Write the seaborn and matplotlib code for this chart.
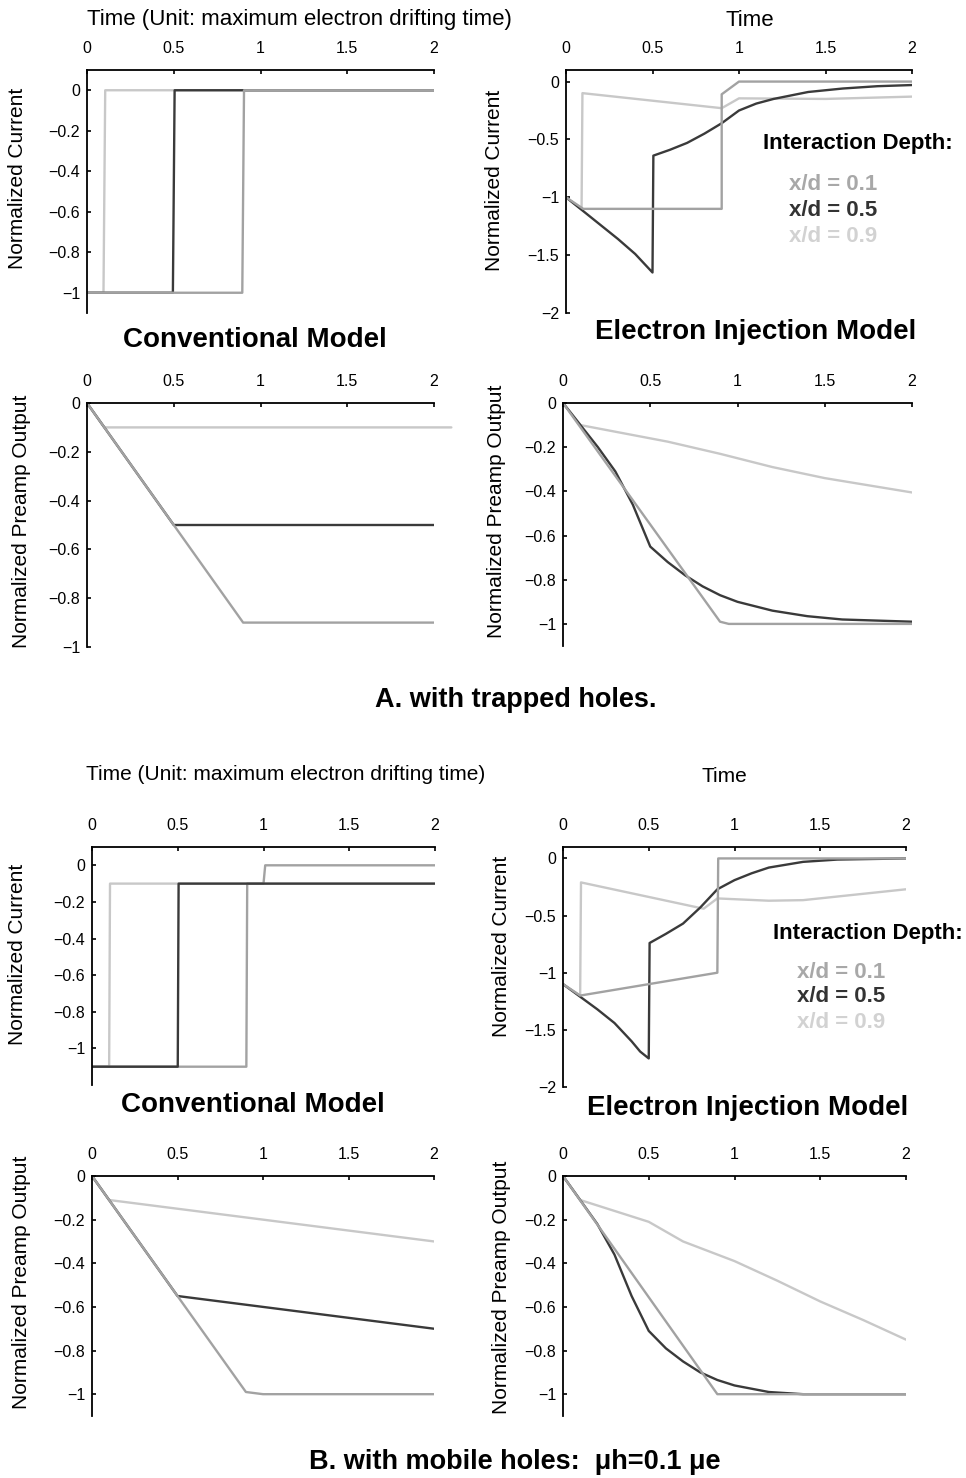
import numpy as np
import pandas as pd
import seaborn as sns
import matplotlib
matplotlib.use("Agg")
import matplotlib.pyplot as plt

sns.set_theme(style="white")
plt.rcParams['font.family'] = ['Liberation Sans', 'DejaVu Sans']
plt.rcParams['axes.unicode_minus'] = True
plt.rcParams['text.color'] = 'black'
plt.rcParams['axes.labelcolor'] = 'black'
plt.rcParams['xtick.color'] = 'black'
plt.rcParams['ytick.color'] = 'black'

# ---------------- data ----------------
depths = ["x/d = 0.1", "x/d = 0.5", "x/d = 0.9"]
colors = {"x/d = 0.1": "#a2a2a2", "x/d = 0.5": "#3a3a3a", "x/d = 0.9": "#c8c8c8"}
legend_colors = {"x/d = 0.1": "#a8a8a8", "x/d = 0.5": "#333333", "x/d = 0.9": "#d2d2d2"}

x_ticks = [0, 0.5, 1, 1.5, 2]
x_ticklabels = ["0", "0.5", "1", "1.5", "2"]
y_ticks_1 = [0, -0.2, -0.4, -0.6, -0.8, -1]
y_ticklabels_1 = ["0", "\u22120.2", "\u22120.4", "\u22120.6", "\u22120.8", "\u22121"]
y_ticks_2 = [0, -0.5, -1, -1.5, -2]
y_ticklabels_2 = ["0", "\u22120.5", "\u22121", "\u22121.5", "\u22122"]

# A. trapped holes, conventional current
a1_t_01 = [0, 0.895, 0.905, 2.0]
a1_v_01 = [-1, -1, 0, 0]
a1_t_05 = [0, 0.495, 0.505, 2.0]
a1_v_05 = [-1, -1, 0, 0]
a1_t_09 = [0, 0.095, 0.105, 2.0]
a1_v_09 = [-1, -1, 0, 0]

# A. trapped holes, electron injection current
a2_t_01 = [0, 0.1, 0.9, 0.9, 1.0, 2.0]
a2_v_01 = [-1.0, -1.1, -1.1, -0.11, 0.0, 0.0]
a2_t_05 = [0, 0.1, 0.2, 0.3, 0.4, 0.5, 0.505, 0.6, 0.7, 0.8, 0.9, 1.0, 1.1, 1.2, 1.4, 1.6, 1.8, 2.0]
a2_v_05 = [-1.0, -1.12, -1.24, -1.36, -1.49, -1.65, -0.64, -0.59, -0.53, -0.45, -0.36, -0.25, -0.19, -0.15, -0.09, -0.06, -0.04, -0.03]
a2_t_09 = [0, 0.09, 0.095, 0.9, 1.0, 1.5, 2.0]
a2_v_09 = [-1.0, -1.1, -0.1, -0.23, -0.145, -0.15, -0.13]

# A. trapped holes, conventional preamp
a3_t_01 = [0, 0.9, 2.0]
a3_v_01 = [0, -0.9, -0.9]
a3_t_05 = [0, 0.5, 2.0]
a3_v_05 = [0, -0.5, -0.5]
a3_t_09 = [0, 0.1, 2.1]
a3_v_09 = [0, -0.1, -0.1]

# A. trapped holes, electron injection preamp
a4_t_01 = [0, 0.9, 0.95, 2.0]
a4_v_01 = [0, -0.99, -1.0, -1.0]
a4_t_05 = [0, 0.1, 0.2, 0.3, 0.4, 0.5, 0.6, 0.7, 0.8, 0.9, 1.0, 1.2, 1.4, 1.6, 1.8, 2.0]
a4_v_05 = [0, -0.1, -0.2, -0.31, -0.46, -0.65, -0.72, -0.78, -0.83, -0.87, -0.90, -0.94, -0.965, -0.98, -0.985, -0.99]
a4_t_09 = [0, 0.1, 0.5, 0.6, 0.9, 1.2, 1.5, 2.0]
a4_v_09 = [0, -0.1, -0.16, -0.175, -0.23, -0.29, -0.34, -0.405]

# B. mobile holes, conventional current
b1_t_01 = [0, 0.9, 0.905, 1.0, 1.01, 2.0]
b1_v_01 = [-1.1, -1.1, -0.1, -0.1, 0.0, 0.0]
b1_t_05 = [0, 0.5, 0.505, 2.0]
b1_v_05 = [-1.1, -1.1, -0.1, -0.1]
b1_t_09 = [0, 0.1, 0.105, 2.0]
b1_v_09 = [-1.1, -1.1, -0.1, -0.1]

# B. mobile holes, electron injection current
b2_t_01 = [0, 0.1, 0.9, 0.905, 2.0]
b2_v_01 = [-1.1, -1.2, -1.0, 0.0, 0.0]
b2_t_05 = [0, 0.1, 0.2, 0.3, 0.4, 0.45, 0.5, 0.505, 0.6, 0.7, 0.8, 0.9, 1.0, 1.1, 1.2, 1.4, 1.6, 2.0]
b2_v_05 = [-1.1, -1.21, -1.32, -1.44, -1.6, -1.69, -1.75, -0.74, -0.66, -0.57, -0.43, -0.27, -0.19, -0.13, -0.08, -0.03, -0.01, 0.0]
b2_t_09 = [0, 0.1, 0.105, 0.82, 0.9, 1.2, 1.4, 2.0]
b2_v_09 = [-1.1, -1.2, -0.21, -0.44, -0.35, -0.37, -0.365, -0.27]

# B. mobile holes, conventional preamp
b3_t_01 = [0, 0.9, 1.0, 2.0]
b3_v_01 = [0, -0.99, -1.0, -1.0]
b3_t_05 = [0, 0.5, 1.0, 2.0]
b3_v_05 = [0, -0.55, -0.6, -0.7]
b3_t_09 = [0, 0.1, 1.0, 2.0]
b3_v_09 = [0, -0.11, -0.2, -0.3]

# B. mobile holes, electron injection preamp
b4_t_01 = [0, 0.9, 2.0]
b4_v_01 = [0, -1.0, -1.0]
b4_t_05 = [0, 0.1, 0.2, 0.3, 0.4, 0.5, 0.6, 0.7, 0.8, 0.9, 1.0, 1.2, 1.4, 2.0]
b4_v_05 = [0, -0.11, -0.22, -0.36, -0.55, -0.71, -0.79, -0.85, -0.9, -0.935, -0.96, -0.99, -1.0, -1.0]
b4_t_09 = [0, 0.1, 0.5, 0.7, 1.0, 1.25, 1.5, 1.75, 2.0]
b4_v_09 = [0, -0.11, -0.21, -0.30, -0.39, -0.48, -0.575, -0.66, -0.75]

# ---------------- figure ----------------
W, H = 966, 1478
fig = plt.figure(figsize=(W / 100, H / 100), dpi=100)


def px_axes(x0, x1, y0, y1):
    return fig.add_axes([x0 / W, 1 - y1 / H, (x1 - x0) / W, (y1 - y0) / H])


def draw(ax, series, ylim, yticks, yticklabels, order=("x/d = 0.9", "x/d = 0.5", "x/d = 0.1"), noclip=()):
    for key in order:
        t, v = series[key]
        df = pd.DataFrame({"t": t, "v": v})
        sns.lineplot(data=df, x="t", y="v", sort=False, estimator=None,
                     color=colors[key], lw=1.7, ax=ax,
                     clip_on=(key not in noclip))
    ax.set_xlim(0, 2)
    ax.set_ylim(*ylim)
    ax.set_xticks(x_ticks)
    ax.set_xticklabels(x_ticklabels)
    ax.set_yticks(yticks)
    ax.set_yticklabels(yticklabels)
    ax.xaxis.tick_top()
    ax.set_xlabel("")
    ax.set_ylabel("")
    for s in ["right", "bottom"]:
        ax.spines[s].set_visible(False)
    for s in ["top", "left"]:
        ax.spines[s].set_color("black")
        ax.spines[s].set_linewidth(1.3)
    ax.tick_params(axis="x", direction="in", length=3, width=1.2, pad=10,
                   labelsize=11.5, top=True, bottom=False, colors="black")
    ax.tick_params(axis="y", direction="in", length=3, width=1.2, pad=5,
                   labelsize=11.5, left=True, colors="black")
    ax.set_facecolor("white")


axA1 = px_axes(87, 434, 70, 313)
draw(axA1, {"x/d = 0.1": (a1_t_01, a1_v_01), "x/d = 0.5": (a1_t_05, a1_v_05),
            "x/d = 0.9": (a1_t_09, a1_v_09)}, (-1.1, 0.1), y_ticks_1, y_ticklabels_1)

axA2 = px_axes(566, 912, 70, 313)
draw(axA2, {"x/d = 0.1": (a2_t_01, a2_v_01), "x/d = 0.5": (a2_t_05, a2_v_05),
            "x/d = 0.9": (a2_t_09, a2_v_09)}, (-2, 0.1), y_ticks_2, y_ticklabels_2)

axA3 = px_axes(87, 434, 403, 647)
draw(axA3, {"x/d = 0.1": (a3_t_01, a3_v_01), "x/d = 0.5": (a3_t_05, a3_v_05),
            "x/d = 0.9": (a3_t_09, a3_v_09)}, (-1, 0), y_ticks_1, y_ticklabels_1,
     noclip=("x/d = 0.9",))

axA4 = px_axes(563, 912, 403, 646)
draw(axA4, {"x/d = 0.1": (a4_t_01, a4_v_01), "x/d = 0.5": (a4_t_05, a4_v_05),
            "x/d = 0.9": (a4_t_09, a4_v_09)}, (-1.1, 0), y_ticks_1, y_ticklabels_1)

axB1 = px_axes(92, 435, 847, 1085)
draw(axB1, {"x/d = 0.1": (b1_t_01, b1_v_01), "x/d = 0.5": (b1_t_05, b1_v_05),
            "x/d = 0.9": (b1_t_09, b1_v_09)}, (-1.2, 0.1), y_ticks_1, y_ticklabels_1,
     order=("x/d = 0.9", "x/d = 0.1", "x/d = 0.5"))

axB2 = px_axes(563, 906, 847, 1087)
draw(axB2, {"x/d = 0.1": (b2_t_01, b2_v_01), "x/d = 0.5": (b2_t_05, b2_v_05),
            "x/d = 0.9": (b2_t_09, b2_v_09)}, (-2, 0.1), y_ticks_2, y_ticklabels_2)

axB3 = px_axes(92, 434, 1176, 1416)
draw(axB3, {"x/d = 0.1": (b3_t_01, b3_v_01), "x/d = 0.5": (b3_t_05, b3_v_05),
            "x/d = 0.9": (b3_t_09, b3_v_09)}, (-1.1, 0), y_ticks_1, y_ticklabels_1)

axB4 = px_axes(563, 906, 1176, 1416)
draw(axB4, {"x/d = 0.1": (b4_t_01, b4_v_01), "x/d = 0.5": (b4_t_05, b4_v_05),
            "x/d = 0.9": (b4_t_09, b4_v_09)}, (-1.1, 0), y_ticks_1, y_ticklabels_1)


def ftext(x, y, s, **kw):
    kw.setdefault("color", "black")
    fig.text(x / W, 1 - y / H, s, ha="center", va="center", **kw)


# y labels
for (x, y, s) in [(18, 178, "Normalized Current"), (495, 180, "Normalized Current"),
                  (22, 521, "Normalized Preamp Output"), (497, 511, "Normalized Preamp Output"),
                  (18, 954, "Normalized Current"), (502, 946, "Normalized Current"),
                  (22, 1282, "Normalized Preamp Output"), (502, 1287, "Normalized Preamp Output")]:
    ftext(x, y, s, rotation=90, fontsize=15)

# time titles
ftext(299, 20, "Time (Unit: maximum electron drifting time)", fontsize=16)
ftext(750, 20, "Time", fontsize=16)
ftext(286, 775, "Time (Unit: maximum electron drifting time)", fontsize=15)
ftext(724, 776, "Time", fontsize=15)

# model titles
ftext(255, 340, "Conventional Model", fontsize=20, fontweight="bold")
ftext(756, 332, "Electron Injection Model", fontsize=20, fontweight="bold")
ftext(253, 1105, "Conventional Model", fontsize=20, fontweight="bold")
ftext(748, 1108, "Electron Injection Model", fontsize=20, fontweight="bold")

# captions
ftext(516, 700, "A. with trapped holes.", fontsize=19.5, fontweight="bold")
ftext(515, 1462, "B. with mobile holes:  \u03bch=0.1 \u03bce", fontsize=19.5, fontweight="bold")

# legends
ftext(858, 143, "Interaction Depth:", fontsize=16, fontweight="bold")
for y, key in zip([185, 210, 236], depths):
    ftext(833, y, key, fontsize=16, fontweight="bold", color=legend_colors[key])
ftext(868, 934, "Interaction Depth:", fontsize=16, fontweight="bold")
for y, key in zip([972, 997, 1023], depths):
    ftext(841, y, key, fontsize=16, fontweight="bold", color=legend_colors[key])

fig.savefig("out.png", dpi=100, facecolor="white")
